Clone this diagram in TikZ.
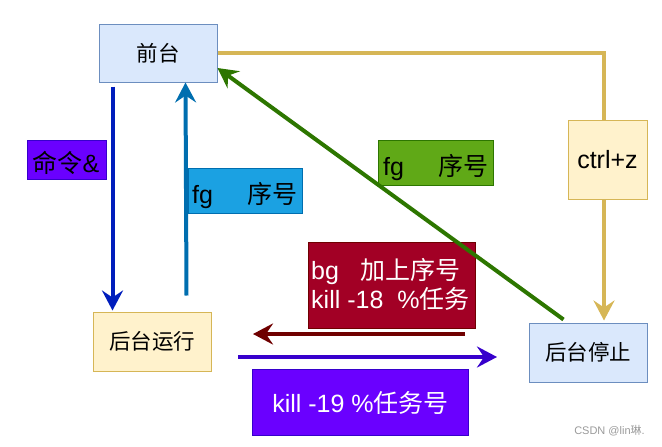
\documentclass[tikz,border=0pt]{standalone}
\usepackage{fontspec}
\setmainfont{Liberation Sans}
\newfontfamily\cjk{Noto Sans CJK SC}
\usetikzlibrary{arrows.meta}
\definecolor{boxblue}{HTML}{DAE8FC}
\definecolor{boxblueD}{HTML}{6C8EBF}
\definecolor{boxyel}{HTML}{FFF2CC}
\definecolor{boxyelD}{HTML}{D6B656}
\definecolor{yelline}{HTML}{D6B656}
\definecolor{dblue}{HTML}{001DBC}
\definecolor{lblue}{HTML}{006EAF}
\definecolor{lbluefill}{HTML}{1BA1E2}
\definecolor{dgreen}{HTML}{2D7600}
\definecolor{lgreen}{HTML}{60A917}
\definecolor{dred}{HTML}{6F0000}
\definecolor{redfill}{HTML}{A20025}
\definecolor{purp}{HTML}{3700CC}
\definecolor{purpfill}{HTML}{6A00FF}
\definecolor{wmgray}{HTML}{9A9A9A}
\begin{document}
\begin{tikzpicture}[x=1pt,y=-1pt,
  box/.style={draw, line width=1pt, inner sep=0pt, font=\fontsize{21.5}{24}\selectfont\cjk},
  bluebox/.style={box, draw=boxblueD, fill=boxblue},
  yelbox/.style={box, draw=boxyelD, fill=boxyel},
  lbl/.style={draw, line width=1pt, inner sep=0pt},
  lbltext/.style={font=\fontsize{25}{29}\selectfont, inner sep=0pt},
  conn/.style={line width=4pt},
  tip/.style={-{Stealth[length=20pt,width=21pt,inset=7pt]}},
]
\useasboundingbox (0,0) rectangle (662,447);

% main boxes
\node[bluebox, minimum width=118pt, minimum height=58pt] (front) at (158,53) {前台};
\node[yelbox, minimum width=118pt, minimum height=59pt] (run) at (152,341.5) {后台运行};
\node[bluebox, minimum width=118pt, minimum height=59pt] (stop) at (588,352.5) {后台停止};

% labels
\node[lbl, draw=purp, fill=purpfill, minimum width=79pt, minimum height=39pt] (cmd) at (66.5,159.5) {};
\node[lbltext] (cmdt) at (66,163) {{\cjk 命令}\&};

\node[lbl, draw=lblue, fill=lbluefill, minimum width=114pt, minimum height=45pt] (fgb) at (245,190.5) {};
\node[lbltext] (fgbt) at (245,196) {fg\hspace{35pt}{\cjk 序号}};

\node[lbl, draw=dgreen, fill=lgreen, minimum width=115pt, minimum height=45pt] (fgg) at (435.5,162.5) {};
\node[lbltext] (fggt) at (436,168) {fg\hspace{35pt}{\cjk 序号}};

\node[lbl, draw=dred, fill=redfill, minimum width=167pt, minimum height=86pt] (bgl) at (391.5,285) {};
\node[lbltext, text=white, align=left, anchor=west] (bglt) at (311,284) {bg\hspace{21pt}{\cjk 加上序号}\\kill -18\hspace{14pt}\%{\cjk 任务}};

\node[lbl, draw=purp, fill=purpfill, minimum width=216pt, minimum height=66pt] (kl) at (360,402) {};
\node[lbltext, text=white] (klt) at (360.5,402.5) {kill -19 \%{\cjk 任务号}};

% connectors
\draw[conn, draw=yelline] (front.east) -| (604,120);
\node[yelbox, minimum width=79pt, minimum height=79pt, font=\fontsize{25}{29}\selectfont] (ctrl) at (607.5,159.5) {ctrl+z};
\draw[conn, tip, draw=yelline] ([xshift=-3.5pt]ctrl.south) -- ([xshift=-3.5pt,yshift=2pt]ctrl.south |- stop.north);
\draw[conn, tip, draw=dblue] ([xshift=14pt,yshift=-4pt]front.south west) -- ([xshift=20pt,yshift=1pt]run.north west);
\draw[conn, tip, draw=lblue] ([xshift=-25pt,yshift=16pt]run.north east) -- ([xshift=87pt]front.south west);
\draw[conn, tip, draw=dgreen] ([xshift=35pt,yshift=3pt]stop.north west) -- ([yshift=-15pt]front.east);
\coordinate (rs) at (465,334);
\coordinate (re) at (253,334);
\draw[conn, tip, draw=dred] (rs) -- (re);
\coordinate (ps) at (238,357);
\coordinate (pe) at (497,357);
\draw[conn, tip, draw=purp] (ps) -- (pe);

% watermark
\node[font=\fontsize{11}{13}\selectfont, text=wmgray, inner sep=0pt] (wm) at (609.5,431) {CSDN @lin{\cjk 琳}.};
\end{tikzpicture}
\end{document}
